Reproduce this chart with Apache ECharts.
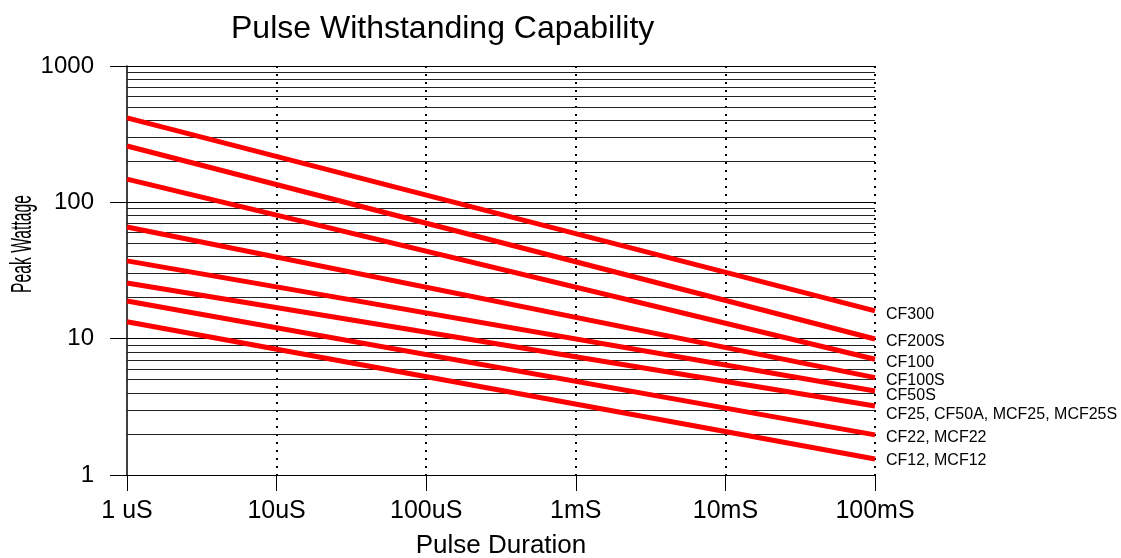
<!DOCTYPE html>
<html>
<head>
<meta charset="utf-8">
<script src="https://cdn.jsdelivr.net/npm/echarts@6/dist/echarts.min.js"></script>
<style>
html,body{margin:0;padding:0;background:#fff;}
#chart{width:1121px;height:558px;}
</style>
</head>
<body>
<div id="chart"></div>
<script>
// ---- data ----
const seriesNames = ['CF300', 'CF200S', 'CF100', 'CF100S', 'CF50S',
  'CF25, CF50A, MCF25, MCF25S', 'CF22, MCF22', 'CF12, MCF12'];
const durationStart = 1e-6;   // 1 uS
const durationEnd = 0.1;      // 100 mS
const wattsAtStart = [416, 259, 148, 66, 37.2, 25.6, 18.9, 13.3];
const wattsAtEnd = [16.0, 9.95, 7.06, 5.18, 4.13, 3.21, 1.97, 1.31];
const xTickLabels = ['1 uS', '10uS', '100uS', '1mS', '10mS', '100mS'];
const minorGridValues = [2, 3, 4, 5, 6, 7, 8, 9, 20, 30, 40, 50, 60, 70, 80, 90,
  200, 300, 400, 500, 600, 700, 800, 900];

// ---- styling ----
const FONT = "'Liberation Sans', Arial, sans-serif";
const labelNudge = [4, 3, 3, 3, 5, 9, 3, 2];

const chart = echarts.init(document.getElementById('chart'));

const series = seriesNames.map((name, i) => {
  const s = {
    name: name,
    type: 'line',
    symbol: 'none',
    silent: true,
    animation: false,
    lineStyle: { color: '#ff0000', width: 5 },
    data: [[durationStart, wattsAtStart[i]], [durationEnd, wattsAtEnd[i]]],
    endLabel: {
      show: true,
      formatter: '{a}',
      color: '#000',
      fontFamily: FONT,
      fontSize: 16,
      distance: 11,
      offset: [0, labelNudge[i]]
    },
    z: 5
  };
  if (i === 0) {
    s.markLine = {
      silent: true,
      symbol: 'none',
      animation: false,
      label: { show: false },
      lineStyle: { color: '#222', width: 1, type: 'solid' },
      data: minorGridValues.map(v => ({ yAxis: v })),
      z: 1
    };
  }
  return s;
});

chart.setOption({
  backgroundColor: '#fff',
  animation: false,
  title: {
    text: 'Pulse Withstanding Capability',
    left: 226,
    top: 8,
    textStyle: { fontFamily: FONT, fontSize: 32, fontWeight: 'normal', color: '#000' }
  },
  grid: { left: 127, right: 246, top: 66, bottom: 83, containLabel: false, outerBoundsMode: 'none' },
  xAxis: {
    type: 'log',
    logBase: 10,
    min: durationStart,
    max: durationEnd,
    name: 'Pulse Duration',
    nameLocation: 'middle',
    nameGap: 58,
    nameTextStyle: { fontFamily: FONT, fontSize: 26, color: '#000' },
    axisLine: { show: true, lineStyle: { color: '#000', width: 1 } },
    axisTick: { show: true, length: 16, lineStyle: { color: '#000', width: 1 } },
    axisLabel: {
      fontFamily: FONT, fontSize: 25, color: '#000', margin: 24,
      showMinLabel: true, showMaxLabel: true,
      formatter: v => xTickLabels[Math.round(Math.log10(v)) + 6] || ''
    },
    splitLine: { show: true, showMinLine: false, lineStyle: { color: '#000', width: 2, type: [2, 6] } }
  },
  yAxis: {
    type: 'log',
    logBase: 10,
    min: 1,
    max: 1000,
    axisLine: { show: true, lineStyle: { color: '#000', width: 1.5 } },
    axisTick: { show: true, length: 17, lineStyle: { color: '#000', width: 1 } },
    axisLabel: {
      fontFamily: FONT, fontSize: 24, color: '#000', margin: 33,
      formatter: v => String(Math.round(v))
    },
    splitLine: { show: true, lineStyle: { color: '#000', width: 1 } }
  },
  graphic: [{
    type: 'text',
    x: 23,
    y: 244,
    rotation: Math.PI / 2,
    scaleX: 0.54,
    style: {
      text: 'Peak Wattage',
      font: "29px 'Liberation Sans', Arial, sans-serif",
      fill: '#000',
      align: 'center',
      verticalAlign: 'middle'
    }
  }],
  series: series
});
</script>
</body>
</html>
